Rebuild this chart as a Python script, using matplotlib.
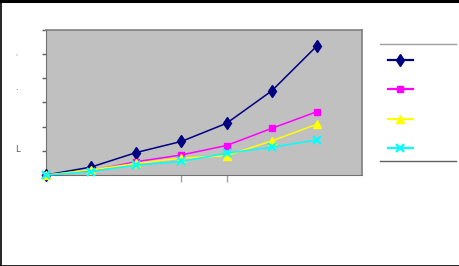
import matplotlib
matplotlib.use("Agg")
import matplotlib.pyplot as plt
from matplotlib.lines import Line2D

# valori (scala 0-6)
categorie = [0, 1, 2, 3, 4, 5, 6]
serie_blu = [0.0, 0.33, 0.93, 1.39, 2.14, 3.48, 5.34]
serie_magenta = [0.0, 0.18, 0.55, 0.83, 1.22, 1.93, 2.62]
serie_giallo = [0.0, 0.21, 0.48, 0.70, 0.80, 1.41, 2.10]
serie_ciano = [0.0, 0.14, 0.41, 0.56, 0.90, 1.15, 1.45]

W, H = 459, 266
fig = plt.figure(figsize=(W / 100, H / 100), dpi=100)
fig.patch.set_facecolor("white")

# area del grafico
ax = fig.add_axes([46 / W, (H - 175) / H, (362 - 46) / W, (175 - 30) / H])
ax.set_facecolor("#C0C0C0")

stili = [
    (serie_blu, "#000080", "d", 6, None),
    (serie_magenta, "#FF00FF", "s", 5, None),
    (serie_giallo, "#FFFF00", "^", 5.5, None),
    (serie_ciano, "#00FFFF", "x", 5.5, 1.6),
]
handles = []
for valori, colore, marker, ms, mew in stili:
    h, = ax.plot(categorie, valori, color=colore, marker=marker, markersize=ms,
                 markeredgewidth=mew if mew else 1, linewidth=1.1, clip_on=False,
                 zorder=3)
    handles.append(h)

ax.set_xlim(0, 7)
ax.set_ylim(0, 6)
ax.set_yticks(range(7))
ax.set_yticklabels([])
ax.set_xticks([3, 4])
ax.set_xticklabels([])
ax.tick_params(axis="y", length=3, width=1, color="#606060", direction="out")
ax.tick_params(axis="x", length=5, width=1, color="#A0A0A0", direction="out")
for lato in ["top", "right"]:
    ax.spines[lato].set_color("#808080")
    ax.spines[lato].set_linewidth(1.2)
ax.spines["left"].set_color("#707070")
ax.spines["bottom"].set_color("#707070")

# resti delle etichette a sinistra
fig.text(16 / W, 1 - 56 / H, "'", fontsize=5, color="#909090", ha="center", va="center")
fig.text(16 / W, 1 - 87 / H, ".", fontsize=6, color="#303030", ha="center", va="center")
fig.text(17 / W, 1 - 150 / H, "L", fontsize=6, color="#505050", ha="center", va="center")

# legenda senza testi
leg = fig.legend(handles, [" "] * 4, loc="upper left",
                 bbox_to_anchor=(382 / W, 1 - 50 / H), frameon=False,
                 fontsize=8, handlelength=2.3, labelspacing=1.75, borderpad=0,
                 handletextpad=0.5)
for linea in leg.get_lines():
    linea.set_linewidth(1.6)
fig.add_artist(Line2D([380 / W, 456 / W], [1 - 44 / H] * 2, color="#A0A0A0",
                      linewidth=1, transform=fig.transFigure))
fig.add_artist(Line2D([380 / W, 456 / W], [1 - 161 / H] * 2, color="#606060",
                      linewidth=1, transform=fig.transFigure))

# cornice esterna (alto, sinistra, basso)
fig.add_artist(Line2D([0, 1], [1 - 1 / H] * 2, color="black", linewidth=2.2,
                      transform=fig.transFigure))
fig.add_artist(Line2D([0.5 / W] * 2, [0, 1], color="black", linewidth=1.2,
                      transform=fig.transFigure))
fig.add_artist(Line2D([0, 1], [0.5 / H] * 2, color="black", linewidth=1.2,
                      transform=fig.transFigure))

fig.savefig("out.png", dpi=100)
